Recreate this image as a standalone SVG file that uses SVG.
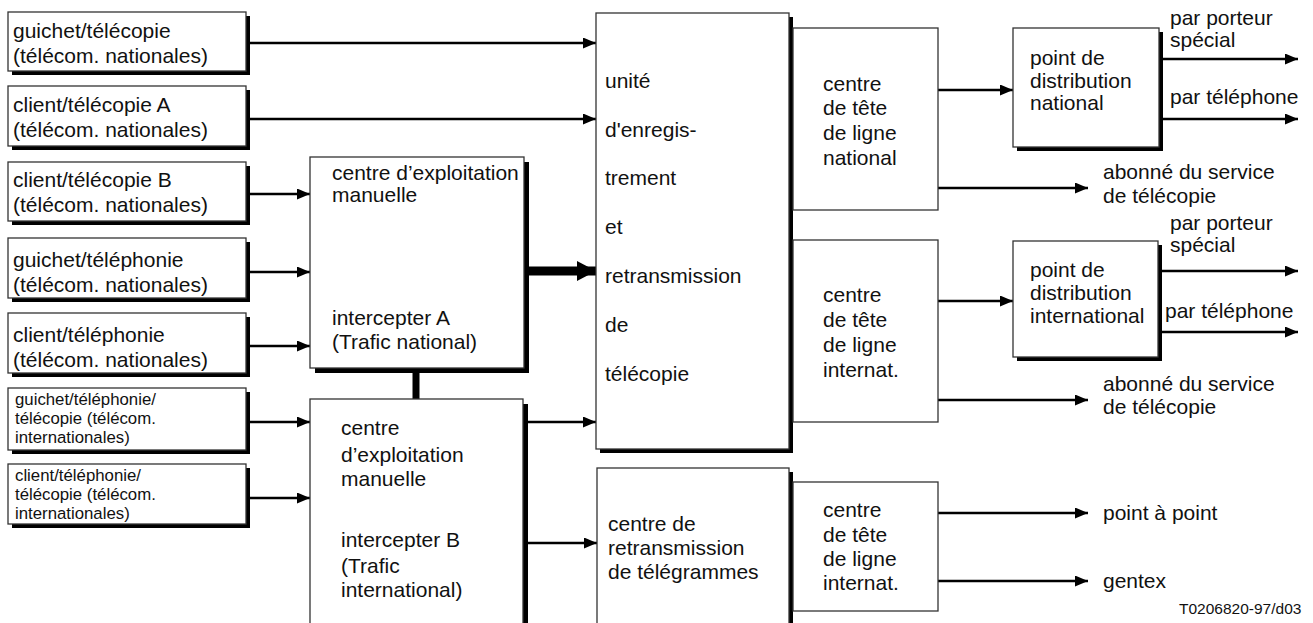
<svg xmlns="http://www.w3.org/2000/svg" width="1313" height="623" viewBox="0 0 1313 623">
<style>
.box{fill:#fff;stroke:#333;stroke-width:1.3}
.sh{fill:#000}
.t{font-family:"Liberation Sans",Arial,sans-serif;font-size:21px;fill:#111}
.s{font-family:"Liberation Sans",Arial,sans-serif;font-size:16.8px;fill:#111}
.f{font-family:"Liberation Sans",Arial,sans-serif;font-size:15.5px;fill:#111}
.c{stroke:#000;stroke-width:2.5;fill:none;marker-end:url(#ah)}
</style>
<defs>
<marker id="ah" markerUnits="userSpaceOnUse" markerWidth="13" markerHeight="11" refX="13" refY="5.5" orient="auto"><path d="M0,0 L13,5.5 L0,11 z" fill="#000"/></marker>
<marker id="ahb" markerUnits="userSpaceOnUse" markerWidth="19" markerHeight="20" refX="19" refY="10" orient="auto"><path d="M0,0 L19,10 L0,20 z" fill="#000"/></marker>
</defs>
<rect width="1313" height="623" fill="#fff"/>

<g id="connectors">
<line class="c" x1="250" y1="43" x2="596" y2="43"/>
<line class="c" x1="250" y1="119" x2="596" y2="119"/>
<line class="c" x1="250" y1="194" x2="310" y2="194"/>
<line class="c" x1="250" y1="272" x2="310" y2="272"/>
<line class="c" x1="250" y1="346" x2="310" y2="346"/>
<line class="c" x1="250" y1="422" x2="310" y2="422"/>
<line class="c" x1="250" y1="498" x2="310" y2="498"/>
<line x1="529" y1="271" x2="596" y2="271" stroke="#000" stroke-width="9" marker-end="url(#ahb)"/>
<line x1="416" y1="372" x2="416" y2="400" stroke="#000" stroke-width="7"/>
<line class="c" x1="528" y1="422" x2="596" y2="422"/>
<line class="c" x1="528" y1="543" x2="597" y2="543"/>
<line class="c" x1="938" y1="90" x2="1013" y2="90"/>
<line class="c" x1="938" y1="188" x2="1088" y2="188"/>
<line class="c" x1="1163" y1="59" x2="1298" y2="59"/>
<line class="c" x1="1163" y1="119" x2="1298" y2="119"/>
<line class="c" x1="938" y1="301" x2="1013" y2="301"/>
<line class="c" x1="938" y1="400" x2="1088" y2="400"/>
<line class="c" x1="1162" y1="271" x2="1298" y2="271"/>
<line class="c" x1="1162" y1="332" x2="1298" y2="332"/>
<line class="c" x1="938" y1="513" x2="1088" y2="513"/>
<line class="c" x1="938" y1="581" x2="1088" y2="581"/>
</g>

<g id="in1"><rect class="sh" x="12" y="16" width="238" height="59"/><rect class="box" x="8" y="12" width="238" height="59"/>
<text class="t" x="13" y="38">guichet/télécopie</text><text class="t" x="13" y="63">(télécom. nationales)</text></g>
<g id="in2"><rect class="sh" x="12" y="90" width="238" height="60"/><rect class="box" x="8" y="86" width="238" height="60"/>
<text class="t" x="13" y="112">client/télécopie A</text><text class="t" x="13" y="137">(télécom. nationales)</text></g>
<g id="in3"><rect class="sh" x="12" y="166" width="238" height="59"/><rect class="box" x="8" y="162" width="238" height="59"/>
<text class="t" x="13" y="187">client/télécopie B</text><text class="t" x="13" y="212">(télécom. nationales)</text></g>
<g id="in4"><rect class="sh" x="12" y="242" width="238" height="60"/><rect class="box" x="8" y="238" width="238" height="60"/>
<text class="t" x="13" y="267">guichet/téléphonie</text><text class="t" x="13" y="292">(télécom. nationales)</text></g>
<g id="in5"><rect class="sh" x="12" y="317" width="238" height="60"/><rect class="box" x="8" y="313" width="238" height="60"/>
<text class="t" x="13" y="342">client/téléphonie</text><text class="t" x="13" y="367">(télécom. nationales)</text></g>
<g id="in6"><rect class="sh" x="12" y="392" width="238" height="62"/><rect class="box" x="8" y="388" width="238" height="62"/>
<text class="s" x="15" y="405">guichet/téléphonie/</text><text class="s" x="15" y="423.8">télécopie (télécom.</text><text class="s" x="15" y="442.6">internationales)</text></g>
<g id="in7"><rect class="sh" x="12" y="468" width="238" height="60"/><rect class="box" x="8" y="464" width="238" height="60"/>
<text class="s" x="15" y="481">client/téléphonie/</text><text class="s" x="15" y="499.8">télécopie (télécom.</text><text class="s" x="15" y="518.6">internationales)</text></g>

<g id="cemA"><rect class="sh" x="315" y="162" width="214" height="211"/><rect class="box" x="310" y="157" width="214" height="211"/>
<text class="t" x="332" y="180">centre d’exploitation</text><text class="t" x="332" y="202">manuelle</text>
<text class="t" x="332" y="325">intercepter A</text><text class="t" x="332" y="349">(Trafic national)</text></g>
<g id="cemB"><rect class="sh" x="315" y="404" width="213" height="230"/><rect class="box" x="310" y="399" width="213" height="230"/>
<text class="t" x="341" y="435">centre</text><text class="t" x="341" y="462">d’exploitation</text><text class="t" x="341" y="486">manuelle</text>
<text class="t" x="341" y="547">intercepter B</text><text class="t" x="341" y="573">(Trafic</text><text class="t" x="341" y="597">international)</text></g>

<g id="unit"><rect class="sh" x="600" y="17" width="193" height="436"/><rect class="box" x="596" y="13" width="193" height="436"/>
<text class="t" x="605" y="88">unité</text><text class="t" x="605" y="137">d'enregis-</text><text class="t" x="605" y="185">trement</text>
<text class="t" x="605" y="234">et</text><text class="t" x="605" y="283">retransmission</text><text class="t" x="605" y="332">de</text><text class="t" x="605" y="381">télécopie</text></g>

<g id="telegr"><rect class="sh" x="601" y="472" width="192" height="160"/><rect class="box" x="597" y="468" width="192" height="160"/>
<text class="t" x="608" y="531">centre de</text><text class="t" x="608" y="555">retransmission</text><text class="t" x="608" y="579">de télégrammes</text></g>

<g id="ctNat"><rect class="box" x="793" y="28" width="145" height="182"/>
<text class="t" x="823" y="91">centre</text><text class="t" x="823" y="115">de tête</text><text class="t" x="823" y="140">de ligne</text><text class="t" x="823" y="165">national</text></g>
<g id="ctInt"><rect class="box" x="793" y="240" width="145" height="182"/>
<text class="t" x="823" y="302">centre</text><text class="t" x="823" y="327">de tête</text><text class="t" x="823" y="352">de ligne</text><text class="t" x="823" y="377">internat.</text></g>
<g id="ctInt2"><rect class="box" x="793" y="482" width="145" height="129"/>
<text class="t" x="823" y="517">centre</text><text class="t" x="823" y="542">de tête</text><text class="t" x="823" y="566">de ligne</text><text class="t" x="823" y="590">internat.</text></g>

<g id="pdNat"><rect class="sh" x="1017" y="32" width="146" height="119"/><rect class="box" x="1013" y="28" width="146" height="119"/>
<text class="t" x="1030" y="65">point de</text><text class="t" x="1030" y="88">distribution</text><text class="t" x="1030" y="110">national</text></g>
<g id="pdInt"><rect class="sh" x="1017" y="245" width="145" height="116"/><rect class="box" x="1013" y="241" width="145" height="116"/>
<text class="t" x="1030" y="277">point de</text><text class="t" x="1030" y="300">distribution</text><text class="t" x="1030" y="323">international</text></g>

<g id="labels">
<text class="t" x="1170" y="25">par porteur</text><text class="t" x="1170" y="47">spécial</text>
<text class="t" x="1170" y="104">par téléphone</text>
<text class="t" x="1103" y="179">abonné du service</text><text class="t" x="1103" y="203">de télécopie</text>
<text class="t" x="1170" y="230">par porteur</text><text class="t" x="1170" y="252">spécial</text>
<text class="t" x="1165" y="318">par téléphone</text>
<text class="t" x="1103" y="391">abonné du service</text><text class="t" x="1103" y="414">de télécopie</text>
<text class="t" x="1103" y="520">point à point</text>
<text class="t" x="1103" y="588">gentex</text>
<text class="f" x="1179" y="614">T0206820-97/d03</text>
</g>
</svg>
